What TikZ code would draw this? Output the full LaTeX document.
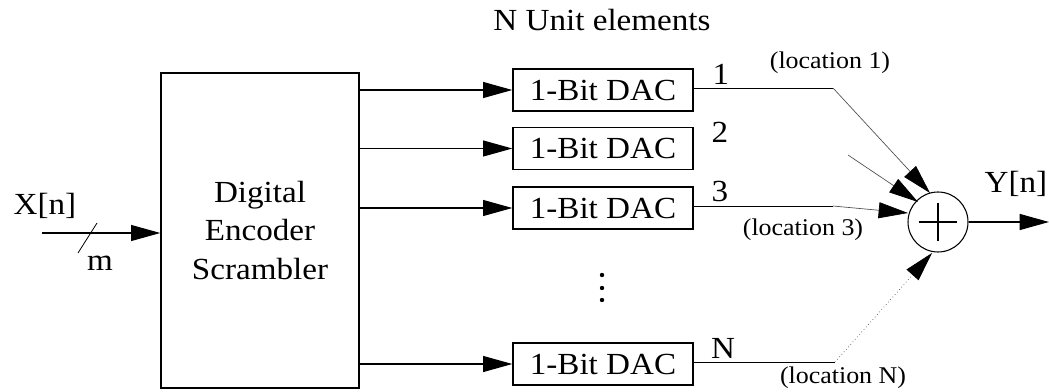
\documentclass[tikz,border=0pt]{standalone}
\usepackage{fontspec}
\setmainfont[FakeStretch=1.08]{Liberation Serif}
\usetikzlibrary{arrows.meta}
\tikzset{
  big/.style={font=\fontsize{23}{29}\selectfont},
  loc/.style={font=\fontsize{18}{20}\selectfont},
  blk/.style={draw, line width=1pt, inner sep=0pt},
  dacbox/.style={blk, big, minimum width=135pt, minimum height=31.5pt},
  tip/.style={-{Triangle[length=22pt,width=12pt,fill=black,color=black]}},
  arr/.style={tip, line width=0.9pt},
  thin line/.style={line width=0.6pt},
  diag/.style={tip, line width=0.5pt, black!70},
}
\begin{document}
\begin{tikzpicture}[x=0.75pt,y=-0.75pt]
\useasboundingbox (0,0) rectangle (1049,392);

% encoder
\node[blk, big, align=center, minimum width=148.5pt, minimum height=236.25pt] (enc) at (260,230.5) {Digital\\Encoder\\Scrambler};

% DACs
\node[dacbox] (d1) at (603,90) {1-Bit DAC};
\node[dacbox] (d2) at (603,148.5) {1-Bit DAC};
\node[dacbox] (d3) at (603,208) {1-Bit DAC};
\node[dacbox] (dN) at (603,364) {1-Bit DAC};

% input
\coordinate (xin) at (42,233);
\draw[arr] (xin) -- (enc.west |- xin);
\draw[thin line] (78,253) -- (97,223);
\node[big] (xlab) at (45,206) {X[n]};
\node[big] (mlab) at (100,263) {m};

% encoder to DACs
\foreach \d in {d1,d2,d3,dN}{
  \draw[arr] (enc.east |- \d.west) -- (\d.west);
}

% title and dots
\node[big] (title) at (602,20) {N Unit elements};
\foreach \yy in {275,288,300}{ \fill (602,\yy) circle (2.2); }

% summer
\node[draw, circle, line width=0.8pt, minimum size=45pt, inner sep=0pt] (sum) at (938,222) {};
\draw[line width=0.8pt] ([xshift=-19*0.75pt]sum.center) -- ([xshift=19*0.75pt]sum.center);
\draw[line width=0.8pt] ([yshift=19*0.75pt]sum.center) -- ([yshift=-19*0.75pt]sum.center);
\coordinate (yout) at (1049,222);
\draw[arr] (sum.east) -- (yout);
\node[big] (ylab) at (1016,184) {Y[n]};

% DAC outputs to summer
\coordinate (b1) at (833,88);
\coordinate (t1) at (930,193);
\coordinate (s2) at (848,155);
\coordinate (t2) at (918,202);
\coordinate (b3) at (833,206);
\coordinate (t3) at (908,213);
\coordinate (bN) at (835,362);
\coordinate (tN) at (932,253);

\draw[thin line] (d1.east |- b1) -- (b1);
\draw[diag] (b1) -- (t1);
\draw[diag] (s2) -- (t2);
\draw[thin line] (d3.east |- b3) -- (b3);
\draw[diag] (b3) -- (t3);
\draw[thin line] (dN.east |- bN) -- (bN);
\draw[diag, dotted] (bN) -- (tN);

% labels
\node[big] (n1) at (721,74) {1};
\node[big] (n2) at (720,132) {2};
\node[big] (n3) at (720,191) {3};
\node[big] (nN) at (723,348) {N};
\node[loc] (l1) at (830,63) {(location 1)};
\node[loc] (l3) at (803,230) {(location 3)};
\node[loc] (lN) at (843,378) {(location N)};
\end{tikzpicture}
\end{document}
